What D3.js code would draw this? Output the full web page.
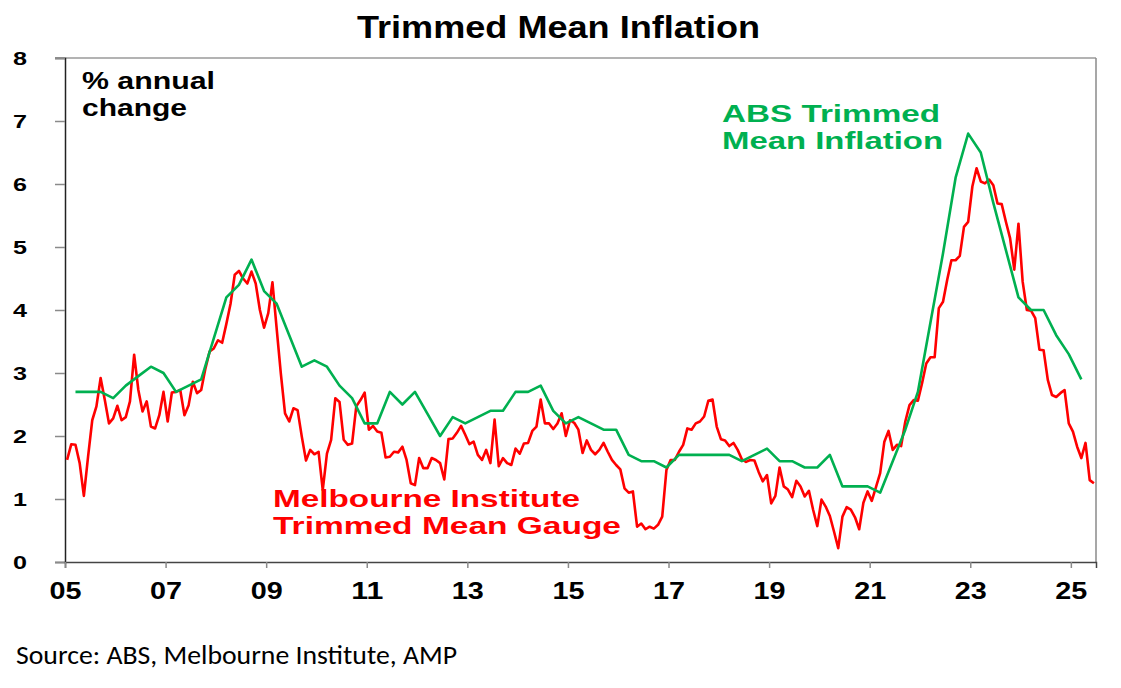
<!DOCTYPE html>
<html>
<head>
<meta charset="utf-8">
<script src="https://cdn.jsdelivr.net/npm/d3@7"></script>
<style>
  body { margin: 0; background: #ffffff; }
  svg { display: block; }
</style>
</head>
<body>
<svg id="svg" width="1121" height="688"></svg>
<script>
//Data - Melbourne Institute gauge, monthly from Jan 2005
const gaugeStartYear = 2005;
const gaugeValues = [
  1.62, 1.87, 1.86, 1.57, 1.05, 1.67, 2.25, 2.47, 2.92, 2.57, 2.20, 2.28,
  2.48, 2.25, 2.30, 2.55, 3.29, 2.73, 2.39, 2.55, 2.15, 2.12, 2.33, 2.70,
  2.23, 2.69, 2.70, 2.73, 2.33, 2.49, 2.86, 2.68, 2.73, 3.07, 3.34, 3.39,
  3.52, 3.48, 3.78, 4.10, 4.56, 4.62, 4.50, 4.42, 4.61, 4.42, 4.00, 3.72,
  3.95, 4.44, 3.71, 2.99, 2.36, 2.23, 2.44, 2.41, 1.99, 1.61, 1.78, 1.71,
  1.75, 1.14, 1.72, 1.94, 2.60, 2.54, 1.94, 1.86, 1.88, 2.47, 2.57, 2.69,
  2.10, 2.16, 2.07, 2.05, 1.66, 1.67, 1.75, 1.74, 1.83, 1.62, 1.25, 1.22,
  1.65, 1.49, 1.49, 1.65, 1.62, 1.57, 1.31, 1.95, 1.96, 2.05, 2.16, 2.02,
  1.87, 1.91, 1.70, 1.62, 1.78, 1.57, 2.26, 1.52, 1.65, 1.57, 1.54, 1.80,
  1.72, 1.88, 1.89, 2.08, 2.15, 2.58, 2.20, 2.20, 2.11, 2.20, 2.36, 2.00,
  2.25, 2.21, 2.10, 1.73, 1.93, 1.78, 1.71, 1.78, 1.89, 1.75, 1.62, 1.54,
  1.47, 1.17, 1.10, 1.12, 0.56, 0.61, 0.52, 0.56, 0.53, 0.59, 0.72, 1.46,
  1.62, 1.62, 1.75, 1.86, 2.12, 2.10, 2.20, 2.23, 2.31, 2.56, 2.58, 2.15,
  1.95, 1.93, 1.84, 1.89, 1.78, 1.63, 1.59, 1.62, 1.61, 1.43, 1.28, 1.38,
  0.93, 1.05, 1.50, 1.20, 1.15, 1.03, 1.29, 1.20, 1.04, 1.13, 0.83, 0.57,
  0.99, 0.88, 0.73, 0.48, 0.22, 0.72, 0.87, 0.83, 0.71, 0.52, 0.94, 1.12,
  0.97, 1.19, 1.41, 1.91, 2.08, 1.78, 1.86, 1.84, 2.23, 2.49, 2.57, 2.56,
  2.84, 3.15, 3.25, 3.25, 4.03, 4.13, 4.48, 4.79, 4.79, 4.86, 5.32, 5.40,
  5.96, 6.25, 6.04, 6.01, 6.07, 5.98, 5.69, 5.68, 5.40, 5.14, 4.64, 5.37,
  4.45, 4.00, 3.99, 3.87, 3.37, 3.36, 2.89, 2.65, 2.62, 2.68, 2.73, 2.20,
  2.07, 1.83, 1.65, 1.89, 1.30, 1.25
];

//Data - ABS trimmed mean, quarterly from Mar 2005
const absStartYear = 2005;
const absValues = [
  2.7, 2.7, 2.7, 2.6,
  2.8, 2.95, 3.1, 3.0,
  2.7, 2.8, 2.9, 3.55,
  4.2, 4.4, 4.8, 4.3,
  4.1, 3.6, 3.1, 3.2,
  3.1, 2.8, 2.6, 2.2,
  2.2, 2.7, 2.5, 2.7,
  2.35, 2.0, 2.3, 2.2,
  2.3, 2.4, 2.4, 2.7,
  2.7, 2.8, 2.4, 2.2,
  2.3, 2.2, 2.1, 2.1,
  1.7, 1.6, 1.6, 1.5,
  1.7, 1.7, 1.7, 1.7,
  1.7, 1.6, 1.7, 1.8,
  1.6, 1.6, 1.5, 1.5,
  1.7, 1.2, 1.2, 1.2,
  1.1, 1.6, 2.1, 2.7,
  3.8, 4.9, 6.1, 6.8,
  6.5, 5.7, 4.95, 4.2,
  4.0, 4.0, 3.6, 3.3,
  2.9
];

//Axis ticks
const xTickYears = [2005, 2007, 2009, 2011, 2013, 2015, 2017, 2019, 2021, 2023, 2025];
const xTickLabels = ["05", "07", "09", "11", "13", "15", "17", "19", "21", "23", "25"];
const yTicks = [0, 1, 2, 3, 4, 5, 6, 7, 8];

//Layout
const LEFT = 65, RIGHT = 1096, TOP = 58, BOTTOM = 562;
const RED = "#ff0000";
const GREEN = "#00b050";
const BOLD = "'Liberation Sans', Arial, sans-serif";

const svg = d3.select("svg");

const x = d3.scaleLinear().domain([2005, 2025.5]).range([LEFT, RIGHT]);
const y = d3.scaleLinear().domain([0, 8]).range([BOTTOM, TOP]);

const gaugePts = gaugeValues.map((v, i) => ({ t: gaugeStartYear + (i + 0.5) / 12, v: v }));
const absPts = absValues.map((v, i) => ({ t: absStartYear + (i * 3 + 2.5) / 12, v: v }));

//Title
svg.append("text")
  .attr("x", 357).attr("y", 38)
  .attr("textLength", 403).attr("lengthAdjust", "spacingAndGlyphs")
  .style("font-family", BOLD).style("font-weight", "bold").style("font-size", "31px")
  .attr("fill", "#000")
  .text("Trimmed Mean Inflation");

//Frame (top and right)
svg.append("line").attr("x1", LEFT - 10).attr("x2", RIGHT).attr("y1", TOP).attr("y2", TOP)
  .attr("stroke", "#9a9a9a").attr("stroke-width", 1.5);
svg.append("line").attr("x1", RIGHT).attr("x2", RIGHT).attr("y1", TOP).attr("y2", BOTTOM)
  .attr("stroke", "#8a8a8a").attr("stroke-width", 1.5);

//Y axis
const yAxis = svg.append("g")
  .attr("transform", "translate(" + LEFT + ",0)")
  .call(d3.axisLeft(y).tickValues(yTicks).tickSize(10).tickPadding(28).tickFormat(d3.format("d")));
yAxis.select(".domain").attr("stroke", "#222").attr("stroke-width", 1.5);
yAxis.selectAll(".tick line").attr("stroke", "#8a8a8a").attr("stroke-width", 1.5);
yAxis.selectAll(".tick text")
  .style("font-family", BOLD).style("font-weight", "bold").style("font-size", "19px")
  .attr("fill", "#000").attr("dy", "0.36em")
  .attr("textLength", 14).attr("lengthAdjust", "spacingAndGlyphs");

//X axis
const xAxis = svg.append("g")
  .attr("transform", "translate(0," + BOTTOM + ")")
  .call(d3.axisBottom(x).tickValues(xTickYears).tickSize(6).tickPadding(15)
    .tickFormat((d, i) => xTickLabels[i]));
xAxis.select(".domain").attr("stroke", "#444").attr("stroke-width", 1.5);
xAxis.selectAll(".tick line").attr("stroke", "#8a8a8a").attr("stroke-width", 1.5);
xAxis.selectAll(".tick text")
  .style("font-family", BOLD).style("font-weight", "bold").style("font-size", "23px")
  .attr("fill", "#000")
  .attr("textLength", 32).attr("lengthAdjust", "spacingAndGlyphs");

//Lines
const line = d3.line().x(d => x(d.t)).y(d => y(d.v));

svg.append("path")
  .attr("d", line(gaugePts))
  .attr("fill", "none").attr("stroke", RED).attr("stroke-width", 2.6)
  .attr("stroke-linejoin", "round");

svg.append("path")
  .attr("d", line(absPts))
  .attr("fill", "none").attr("stroke", GREEN).attr("stroke-width", 2.6)
  .attr("stroke-linejoin", "round");

//Labels inside plot
function label(txt, lx, ly, w, size, color) {
  svg.append("text")
    .attr("x", lx).attr("y", ly)
    .attr("textLength", w).attr("lengthAdjust", "spacingAndGlyphs")
    .style("font-family", BOLD).style("font-weight", "bold").style("font-size", size + "px")
    .attr("fill", color)
    .text(txt);
}
label("% annual", 82, 89, 133, 24, "#000");
label("change", 82, 116, 105, 24, "#000");
label("ABS Trimmed", 722, 122, 218, 24, GREEN);
label("Mean Inflation", 722, 149, 221, 24, GREEN);
label("Melbourne Institute", 273, 507, 307, 24, RED);
label("Trimmed Mean Gauge", 273, 534, 348, 24, RED);

//Source
svg.append("text")
  .attr("x", 16).attr("y", 664)
  .attr("textLength", 441).attr("lengthAdjust", "spacingAndGlyphs")
  .style("font-family", "Carlito, Calibri, 'Open Sans', sans-serif").style("font-size", "27px")
  .attr("fill", "#000")
  .text("Source: ABS, Melbourne Institute, AMP");
</script>
</body>
</html>
